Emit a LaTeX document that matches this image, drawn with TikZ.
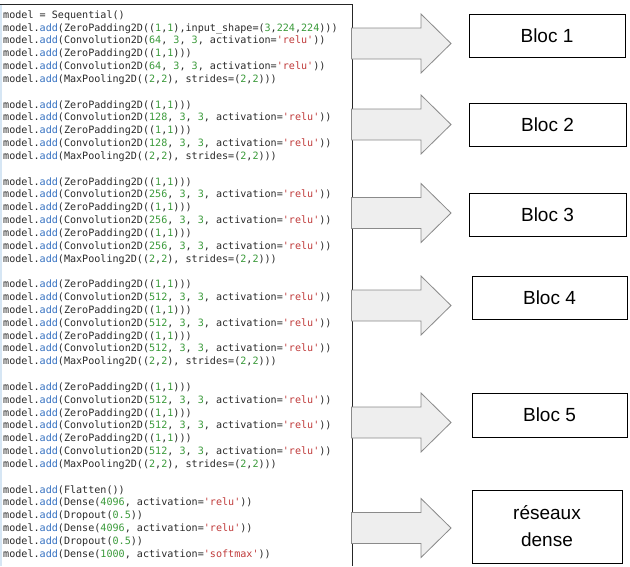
\documentclass[tikz,border=0pt]{standalone}
\usepackage{fontspec}
\setmainfont{Liberation Sans}
\setmonofont{DejaVu Sans Mono}
\definecolor{codetxt}{HTML}{2A2A2A}
\definecolor{codeblue}{HTML}{3470C0}
\definecolor{codegreen}{HTML}{3A9A3A}
\definecolor{codered}{HTML}{BF3A3A}
\definecolor{arrowfill}{HTML}{EEEEEE}
\definecolor{arrowline}{HTML}{8A8A8A}
\definecolor{leftblue}{HTML}{D6E6F4}
\newcommand\cadd[1]{\textcolor{codeblue}{#1}}
\newcommand\cnum[1]{\textcolor{codegreen}{#1}}
\newcommand\cstr[1]{\textcolor{codered}{\char39 #1\char39}}
\newcommand\mdl{model.\cadd{add}(}
\newcommand\lzp{\mdl ZeroPadding2D((\cnum{1},\cnum{1})))}
\newcommand\lconv[1]{\mdl Convolution2D(\cnum{#1}, \cnum{3}, \cnum{3}, activation=\cstr{relu}))}
\newcommand\lmp{\mdl MaxPooling2D((\cnum{2},\cnum{2}), strides=(\cnum{2},\cnum{2})))}
\newcommand\cl[3]{\node[codeline] (#1) at (3,{18.3+12.83*#2}) {#3};}
\begin{document}
\begin{tikzpicture}[x=1pt,y=-1pt,
  codeline/.style={anchor=base west,inner sep=0pt,text=codetxt,font=\fontsize{10.1}{12}\selectfont\ttfamily},
  bigarrow/.style={fill=arrowfill,draw=arrowline,line width=0.8pt,line join=miter},
  blocbox/.style={draw=black,line width=0.9pt,fill=white,inner sep=2pt,align=center,font=\fontsize{19}{27}\selectfont}]
\path[use as bounding box] (0,0) rectangle (630,566);
% code frame
\draw[leftblue,line width=1.5pt] (1,4) -- (1,566);
\draw[black!85,line width=1pt] (0,4) -- (352,4) -- (352,566);
% code lines
\cl{c0}{0}{model = Sequential()}
\cl{c1}{1}{\mdl ZeroPadding2D((\cnum{1},\cnum{1}),input\_shape=(\cnum{3},\cnum{224},\cnum{224})))}
\cl{c2}{2}{\lconv{64}}
\cl{c3}{3}{\lzp}
\cl{c4}{4}{\lconv{64}}
\cl{c5}{5}{\lmp}
\cl{c7}{7}{\lzp}
\cl{c8}{8}{\lconv{128}}
\cl{c9}{9}{\lzp}
\cl{c10}{10}{\lconv{128}}
\cl{c11}{11}{\lmp}
\cl{c13}{13}{\lzp}
\cl{c14}{14}{\lconv{256}}
\cl{c15}{15}{\lzp}
\cl{c16}{16}{\lconv{256}}
\cl{c17}{17}{\lzp}
\cl{c18}{18}{\lconv{256}}
\cl{c19}{19}{\lmp}
\cl{c21}{21}{\lzp}
\cl{c22}{22}{\lconv{512}}
\cl{c23}{23}{\lzp}
\cl{c24}{24}{\lconv{512}}
\cl{c25}{25}{\lzp}
\cl{c26}{26}{\lconv{512}}
\cl{c27}{27}{\lmp}
\cl{c29}{29}{\lzp}
\cl{c30}{30}{\lconv{512}}
\cl{c31}{31}{\lzp}
\cl{c32}{32}{\lconv{512}}
\cl{c33}{33}{\lzp}
\cl{c34}{34}{\lconv{512}}
\cl{c35}{35}{\lmp}
\cl{c37}{37}{\mdl Flatten())}
\cl{c38}{38}{\mdl Dense(\cnum{4096}, activation=\cstr{relu}))}
\cl{c39}{39}{\mdl Dropout(\cnum{0.5}))}
\cl{c40}{40}{\mdl Dense(\cnum{4096}, activation=\cstr{relu}))}
\cl{c41}{41}{\mdl Dropout(\cnum{0.5}))}
\cl{c42}{42}{\mdl Dense(\cnum{1000}, activation=\cstr{softmax}))}
% big arrows
\foreach \c in {43.5,124.5,213,305.5,422.5,528}{
  \draw[bigarrow] (351.5,\c-15.5) -- (421,\c-15.5) -- (421,\c-29.5) -- (451,\c)
     -- (421,\c+29.5) -- (421,\c+15.5) -- (351.5,\c+15.5) -- cycle;
}
% boxes
\node[blocbox,minimum width=156pt,minimum height=43pt] (b1) at (547,35.5) {Bloc 1};
\node[blocbox,minimum width=157pt,minimum height=43pt] (b2) at (547.5,124.5) {Bloc 2};
\node[blocbox,minimum width=157pt,minimum height=43pt] (b3) at (547.5,214.5) {Bloc 3};
\node[blocbox,minimum width=155pt,minimum height=43pt] (b4) at (549.5,297.5) {Bloc 4};
\node[blocbox,minimum width=155pt,minimum height=44pt] (b5) at (549.5,415) {Bloc 5};
\node[blocbox,minimum width=150pt,minimum height=73pt] (b6) at (547,526.5) {réseaux\\dense};
\end{tikzpicture}
\end{document}
